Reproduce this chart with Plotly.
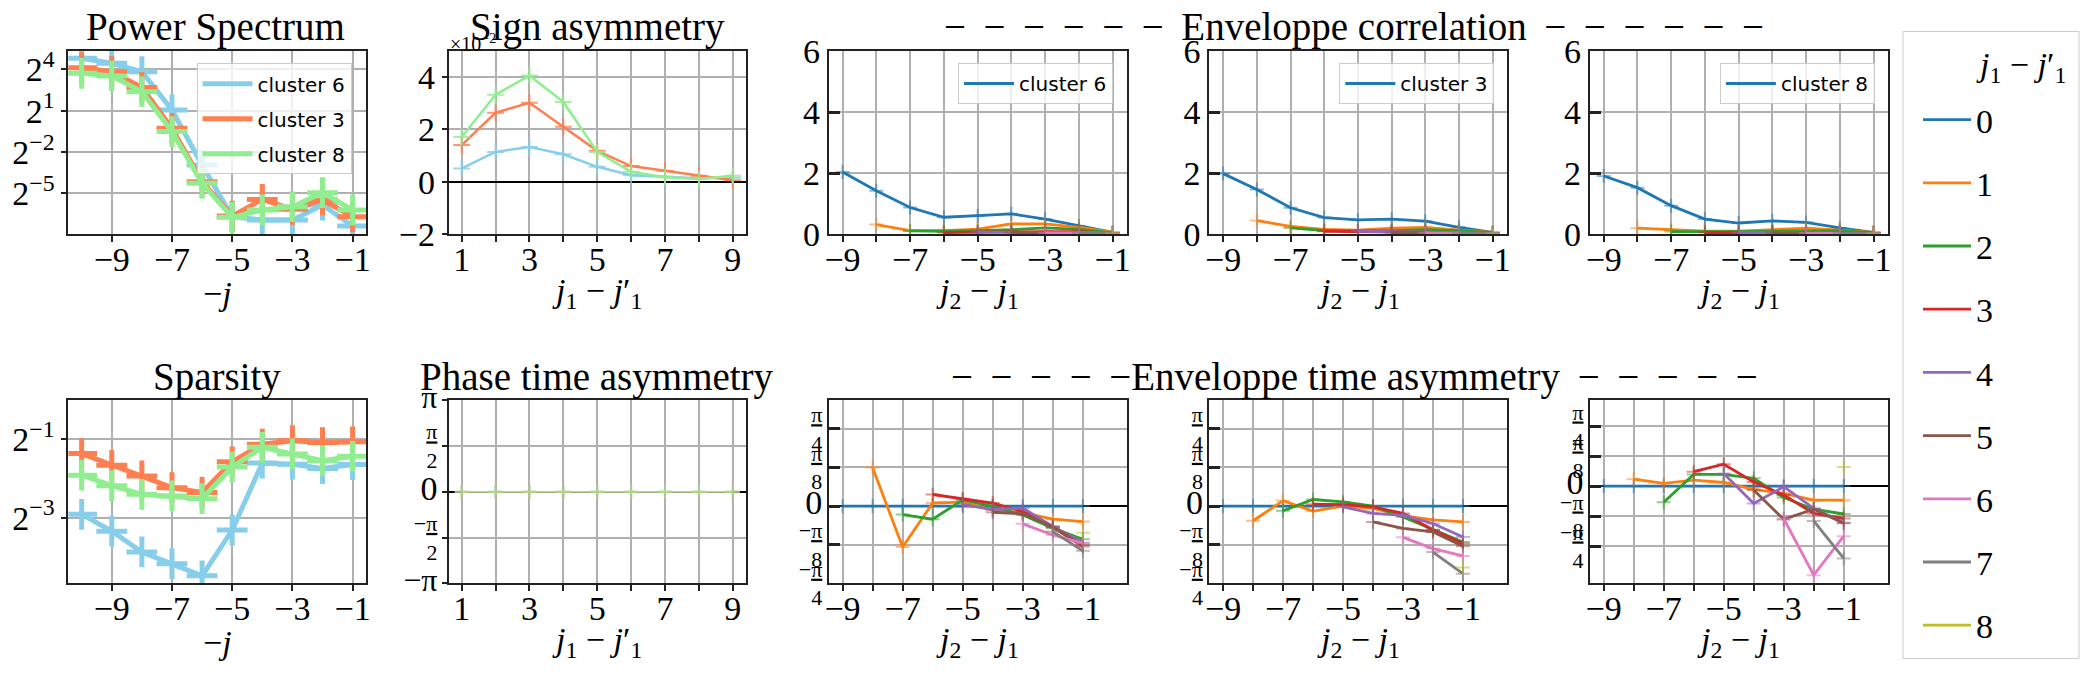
import math

import plotly.graph_objects as go

W, H = 2092, 677
SERIF = "Liberation Serif"
SANS = "DejaVu Sans"
GRID = "#b0b0b0"
SPINE = "#222222"

# x scales
J = [-10, -9, -8, -7, -6, -5, -4, -3, -2, -1]
DJ1 = [1, 2, 3, 4, 5, 6, 7, 8, 9]
DJ2 = [-9, -8, -7, -6, -5, -4, -3, -2, -1]

CLUSTERS = ["cluster 6", "cluster 3", "cluster 8"]
CLUSTER_COLORS = ["#87ceeb", "#ff7f50", "#90ee90"]
K_LABELS = ["0", "1", "2", "3", "4", "5", "6", "7", "8"]
K_COLORS = ["#1f77b4", "#ff7f0e", "#2ca02c", "#d62728", "#9467bd",
            "#8c564b", "#e377c2", "#7f7f7f", "#bcbd22"]

# power spectrum, exponents of 2
power_c6 = [4.8, 4.44, 3.83, 1.05, -2.94, -6.69, -6.94, -6.94, -5.85, -7.37]
power_c3 = [4.12, 3.83, 2.69, -0.28, -4.15, -6.65, -5.44, -6.16, -5.48, -6.69]
power_c8 = [3.71, 3.52, 2.38, -0.52, -4.27, -6.74, -6.21, -5.97, -4.95, -6.21]

# sparsity, exponents of 2
sparsity_c6 = [-2.91, -3.34, -3.87, -4.17, -4.48, -3.31, -1.60, -1.63, -1.74, -1.64]
sparsity_c3 = [-1.36, -1.66, -1.93, -2.23, -2.35, -1.57, -1.12, -1.03, -1.08, -1.06]
sparsity_c8 = [-1.91, -2.18, -2.40, -2.44, -2.51, -1.70, -1.20, -1.37, -1.54, -1.43]

# sign asymmetry (x 1e-2)
sign_c6 = [0.51, 1.14, 1.33, 1.05, 0.57, 0.25, 0.19, 0.13, 0.15]
sign_c3 = [1.40, 2.64, 3.02, 2.10, 1.18, 0.60, 0.42, 0.23, 0.06]
sign_c8 = [1.71, 3.33, 4.06, 3.05, 1.14, 0.38, 0.17, 0.10, 0.23]

# phase time asymmetry, units of pi/8
phase_c6 = [0, 0, 0, 0, 0, 0, 0, 0, 0]
phase_c3 = [0, 0, 0, 0, 0, 0, 0, 0, 0]
phase_c8 = [0, 0, 0, 0, 0, 0, 0, 0, 0]

# envelope correlation, one list per j1 - j1' (starts at j2 - j1 = -9 + k)
corr_c6 = [
    [2.03, 1.42, 0.87, 0.55, 0.60, 0.66, 0.49, 0.26, 0.05],
    [0.31, 0.11, 0.11, 0.16, 0.33, 0.33, 0.22, 0.05],
    [0.10, 0.09, 0.11, 0.14, 0.20, 0.15, 0.04],
    [0.05, 0.05, 0.07, 0.08, 0.08, 0.03],
    [0.06, 0.06, 0.06, 0.05, 0.03],
    [0.05, 0.05, 0.05, 0.03],
    [0.04, 0.04, 0.03],
    [0.03, 0.02],
    [0.02],
]
corr_c3 = [
    [1.98, 1.46, 0.86, 0.54, 0.46, 0.49, 0.42, 0.22, 0.05],
    [0.44, 0.25, 0.15, 0.13, 0.19, 0.22, 0.13, 0.05],
    [0.20, 0.11, 0.11, 0.11, 0.14, 0.11, 0.04],
    [0.09, 0.08, 0.07, 0.07, 0.06, 0.03],
    [0.09, 0.08, 0.07, 0.05, 0.03],
    [0.05, 0.05, 0.04, 0.03],
    [0.04, 0.04, 0.02],
    [0.03, 0.02],
    [0.02],
]
corr_c8 = [
    [1.90, 1.52, 0.93, 0.49, 0.36, 0.43, 0.38, 0.20, 0.05],
    [0.19, 0.14, 0.09, 0.09, 0.13, 0.19, 0.13, 0.05],
    [0.08, 0.07, 0.08, 0.09, 0.11, 0.11, 0.04],
    [0.05, 0.05, 0.05, 0.05, 0.05, 0.03],
    [0.05, 0.04, 0.04, 0.04, 0.03],
    [0.04, 0.04, 0.04, 0.03],
    [0.03, 0.03, 0.02],
    [0.03, 0.02],
    [0.02],
]

# envelope time asymmetry, units of pi/8
tasym_c6 = [
    [0, 0, 0, 0, 0, 0, 0, 0, 0],
    [1.0, -1.06, 0.08, 0.10, -0.10, -0.17, -0.34, -0.40],
    [-0.22, -0.34, 0.16, -0.01, -0.23, -0.57, -0.86],
    [0.30, 0.19, 0.08, -0.14, -0.55, -1.05],
    [0.04, -0.09, -0.05, -0.53, -0.95],
    [-0.16, -0.20, -0.53, -1.01],
    [-0.46, -0.75, -0.96],
    [-0.66, -1.16],
    [-0.69],
]
tasym_c3 = [
    [0, 0, 0, 0, 0, 0, 0, 0, 0],
    [-0.38, 0.14, -0.13, 0.0, -0.06, -0.25, -0.36, -0.41],
    [-0.12, 0.17, 0.11, 0.0, -0.28, -0.61, -0.93],
    [0.05, 0.04, -0.02, -0.19, -0.62, -0.97],
    [-0.02, -0.19, -0.24, -0.45, -0.80],
    [-0.41, -0.58, -0.67, -1.04],
    [-0.81, -1.10, -1.29],
    [-1.19, -1.75],
    [-1.59],
]
tasym_c8 = [
    [0, 0, 0, 0, 0, 0, 0, 0, 0],
    [0.23, 0.09, 0.20, 0.12, -0.11, -0.24, -0.47, -0.47],
    [-0.54, 0.39, 0.39, 0.26, -0.38, -0.77, -0.93],
    [0.48, 0.73, 0.14, -0.30, -0.91, -1.08],
    [0.42, -0.58, -0.02, -0.74, -1.22],
    [-0.13, -1.11, -0.77, -1.24],
    [-1.08, -2.97, -1.67],
    [-1.16, -2.41],
    [0.64],
]

ODD_DJ2 = ["−9", "", "−7", "", "−5", "", "−3", "", "−1"]
LOG2 = math.log10(2)


def fx(px):
    return px / W


def fy(py):
    return 1 - py / H


fig = go.Figure()


def add_series(x, y, color, n, lw, msize, mwidth, mopacity=1.0,
               name=None, legend="legend"):
    fig.add_trace(go.Scatter(
        x=x, y=y, mode="lines", line=dict(color=color, width=lw),
        xaxis=f"x{n}", yaxis=f"y{n}", name=name or "",
        showlegend=name is not None, legend=legend,
        legendgroup=f"{legend}-{name}", hoverinfo="skip"))
    fig.add_trace(go.Scatter(
        x=x, y=y, mode="markers",
        marker=dict(symbol="cross-thin", size=msize, color=color,
                    opacity=mopacity, line=dict(width=mwidth, color=color)),
        xaxis=f"x{n}", yaxis=f"y{n}", showlegend=False, hoverinfo="skip"))


# row 1, col 1: power spectrum
for vals, name, color in zip([power_c6, power_c3, power_c8], CLUSTERS, CLUSTER_COLORS):
    add_series(J, [2 ** v for v in vals], color, 1, 5, 22, 5, name=name, legend="legend")

# row 1, col 2: sign asymmetry
for vals, color in zip([sign_c6, sign_c3, sign_c8], CLUSTER_COLORS):
    add_series(DJ1, vals, color, 2, 2.5, 12, 2, mopacity=0.8)

# row 1, cols 3-5: envelope correlation
for n, data, cname, leg in zip([3, 4, 5], [corr_c6, corr_c3, corr_c8], CLUSTERS,
                               ["legend2", "legend3", "legend4"]):
    for k, vals in enumerate(data):
        add_series(DJ2[k:], vals, K_COLORS[k], n, 2.8, 10, 2, mopacity=0.5,
                   name=cname if k == 0 else None, legend=leg)

# row 2, col 1: sparsity
for vals, color in zip([sparsity_c6, sparsity_c3, sparsity_c8], CLUSTER_COLORS):
    add_series(J, [2 ** v for v in vals], color, 6, 5, 22, 5)

# row 2, col 2: phase time asymmetry
for vals, color in zip([phase_c6, phase_c3, phase_c8], CLUSTER_COLORS):
    add_series(DJ1, vals, color, 7, 1.5, 10, 2, mopacity=0.6)

# row 2, cols 3-5: envelope time asymmetry
for n, data in zip([8, 9, 10], [tasym_c6, tasym_c3, tasym_c8]):
    for k, vals in enumerate(data):
        add_series(DJ2[k:], vals, K_COLORS[k], n, 2.8, 10, 2, mopacity=0.5,
                   name=K_LABELS[k] if n == 10 else None, legend="legend5")

# ---- axes ----
COLS = [(68.4, 366.3), (448.8, 746.0), (828.7, 1126.7), (1209.3, 1506.7), (1589.9, 1887.5)]
ROWS = [(51.0, 234.0), (400.3, 583.3)]


def base_axis(**kw):
    ax = dict(showgrid=True, gridcolor=GRID, gridwidth=1.5, showline=True, mirror=True,
              linecolor=SPINE, linewidth=2, zeroline=False, ticks="outside", ticklen=6,
              tickwidth=1.5, tickcolor=SPINE, tickfont=dict(family=SERIF, size=34),
              automargin=False)
    ax.update(kw)
    return ax


PI_FRAC = ["−<u>π</u><br>4", "−<u>π</u><br>8", "<span style='font-size:34px'>0</span>",
           "<u>π</u><br>8", "<u>π</u><br>4"]
PHASE_TXT = ["<span style='font-size:32px'>−π</span>", "−<u>π</u><br>2",
             "<span style='font-size:34px'>0</span>", "<u>π</u><br>2",
             "<span style='font-size:32px'>π</span>"]

X_TITLE_J = "−<i>j</i>"
X_TITLE_DJ1 = "<i>j</i><sub>1</sub> − <i>j</i>′<sub>1</sub>"
X_TITLE_DJ2 = "<i>j</i><sub>2</sub> − <i>j</i><sub>1</sub>"

xspecs = {
    "j": dict(range=[-10.44, -0.545], tickvals=[-9, -7, -5, -3, -1],
              ticktext=["−9", "−7", "−5", "−3", "−1"]),
    "dj1": dict(range=[0.62, 9.39], tickvals=DJ1,
                ticktext=["1", "", "3", "", "5", "", "7", "", "9"]),
    "dj2a": dict(range=[-9.41, -0.585], tickvals=DJ2, ticktext=ODD_DJ2),
    "dj2b": dict(range=[-9.46, 0.46], tickvals=DJ2, ticktext=ODD_DJ2),
}
panel_x = ["j", "dj1", "dj2a", "dj2a", "dj2a", "j", "dj1", "dj2b", "dj2b", "dj2b"]
x_titles = [X_TITLE_J, X_TITLE_DJ1, X_TITLE_DJ2, X_TITLE_DJ2, X_TITLE_DJ2] * 2

FRAC_AXIS = dict(tickfont=dict(family=SERIF, size=22), zeroline=True, zerolinecolor="black",
                 zerolinewidth=2, ticks="inside", ticklen=11, tickwidth=3,
                 tickvals=[-2, -1, 0, 1, 2], ticktext=PI_FRAC)
CORR_AXIS = dict(range=[0, 6], tickvals=[0, 2, 4, 6], ticks="inside", ticklen=11, tickwidth=3)

yspecs = [
    dict(type="log", range=[-7.95 * LOG2, 5.33 * LOG2], tickvals=[2 ** 4, 2 ** 1, 2 ** -2, 2 ** -5],
         ticktext=["2<sup>4</sup>", "2<sup>1</sup>", "2<sup>−2</sup>", "2<sup>−5</sup>"], ticklen=5),
    dict(range=[-2, 5], tickvals=[-2, 0, 2, 4], ticktext=["−2", "0", "2", "4"],
         zeroline=True, zerolinecolor="black", zerolinewidth=1.5, ticklen=5),
    CORR_AXIS, CORR_AXIS, CORR_AXIS,
    dict(type="log", range=[-4.67 * LOG2, 0], tickvals=[2 ** -1, 2 ** -3],
         ticktext=["2<sup>−1</sup>", "2<sup>−3</sup>"], ticklen=5),
    dict(range=[-8, 8], tickvals=[-8, -4, 0, 4, 8], ticktext=PHASE_TXT,
         tickfont=dict(family=SERIF, size=22), zeroline=True, zerolinecolor="black",
         zerolinewidth=1.5, ticklen=5),
    dict(FRAC_AXIS, range=[-2.0, 2.74]),
    dict(FRAC_AXIS, range=[-2.0, 2.74]),
    dict(FRAC_AXIS, range=[-3.24, 2.86]),
]

layout_axes = {}
for i in range(10):
    n = i + 1
    x0, x1 = COLS[i % 5]
    top, bottom = ROWS[i // 5]
    layout_axes[f"xaxis{n}"] = base_axis(
        domain=[fx(x0), fx(x1)], anchor=f"y{n}", ticklabelstandoff=-12,
        **xspecs[panel_x[i]])
    layout_axes[f"yaxis{n}"] = base_axis(
        domain=[fy(bottom), fy(top)], anchor=f"x{n}", **yspecs[i])
    # x axis title, drawn as text under the panel
    fig.add_annotation(text=x_titles[i], x=fx((x0 + x1) / 2), y=fy([293.0, 642.0][i // 5]),
                       xref="paper", yref="paper", xanchor="center", yanchor="middle",
                       showarrow=False, font=dict(family=SERIF, size=34, color="black"))
fig.update_layout(**layout_axes)

# ---- titles ----
DASH = "−\u2009 "
titles = [
    ("Power Spectrum", 215.0, 27.0),
    ("Sign asymmetry", 597.4, 27.0),
    (DASH * 6 + "Enveloppe correlation" + " \u2009−" * 6, 1354.0, 27.0),
    ("Sparsity", 217.3, 377.0),
    ("Phase time asymmetry", 597.4, 377.0),
    (DASH * 4 + "−Enveloppe time asymmetry" + " \u2009−" * 5, 1354.0, 377.0),
]
for text, cx, cy in titles:
    fig.add_annotation(text=text, x=fx(cx), y=fy(cy), xref="paper", yref="paper",
                       xanchor="center", yanchor="middle", showarrow=False,
                       font=dict(family=SERIF, size=39, color="black"))

fig.add_annotation(text="×10<sup>−2</sup>", x=fx(448), y=fy(43), xref="paper",
                   yref="paper", xanchor="left", yanchor="middle", showarrow=False,
                   font=dict(family=SERIF, size=20, color="black"))

# ---- legends ----
# frame and title of the shared j1 - j1' legend
fig.add_shape(type="rect", xref="paper", yref="paper",
              x0=fx(1903.0), x1=fx(2079.0), y0=fy(658.5), y1=fy(31.5),
              line=dict(color="#cccccc", width=1), fillcolor="white", layer="below")
fig.add_annotation(text=X_TITLE_DJ1, x=fx(2021.0), y=fy(67.0), xref="paper", yref="paper",
                   xanchor="center", yanchor="middle", showarrow=False,
                   font=dict(family=SERIF, size=34, color="black"))

small_legend = dict(yanchor="top", xanchor="right", font=dict(family=SANS, size=20, color="black"),
                    bgcolor="rgba(255,255,255,0.8)", bordercolor="#cccccc", borderwidth=1,
                    tracegroupgap=6, traceorder="grouped", itemwidth=50)
fig.update_layout(
    width=W, height=H, margin=dict(l=0, r=0, t=0, b=0),
    paper_bgcolor="white", plot_bgcolor="white",
    font=dict(family=SERIF, size=34, color="black"),
    legend=dict(small_legend, x=fx(351.5), y=fy(63.3)),
    legend2=dict(small_legend, x=fx(1113.0), y=fy(63.0)),
    legend3=dict(small_legend, x=fx(1494.3), y=fy(63.0)),
    legend4=dict(small_legend, x=fx(1874.9), y=fy(63.0)),
    legend5=dict(x=fx(1918.0), y=fy(91.0), xanchor="left", yanchor="top",
                 font=dict(family=SERIF, size=34, color="black"),
                 bgcolor="rgba(0,0,0,0)", borderwidth=0, itemwidth=48,
                 tracegroupgap=16, traceorder="grouped"),
)

# the page body has a default 8 px margin; drop it so the figure fills the window
fig.write_html("out.html", config={"displayModeBar": False},
               post_script="document.body.style.margin = '0px';")
